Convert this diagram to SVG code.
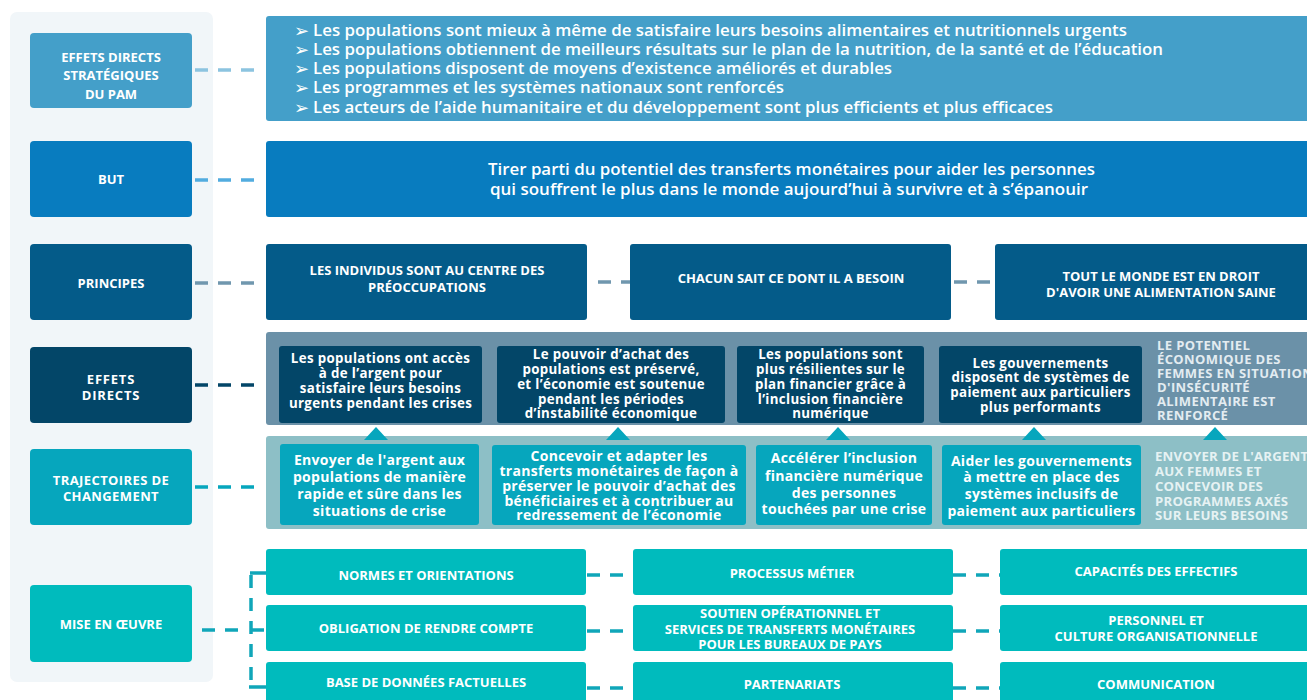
<svg xmlns="http://www.w3.org/2000/svg" width="1307" height="700" viewBox="0 0 1307 700">
<style>
text{font-family:"Open Sans","Liberation Sans",sans-serif;font-weight:700;fill:#fff}
.lab{font-size:13px;text-anchor:middle}
.cap{font-size:13px;text-anchor:middle}
.big{font-size:16px;font-weight:600}
.bul{font-family:"DejaVu Sans",sans-serif;font-size:18px;font-weight:400}
.ed{font-size:13.3px;text-anchor:middle;letter-spacing:0.35px}
.tr{font-size:14px;text-anchor:middle;letter-spacing:0.3px}
.pale{font-size:13px;fill:#e3ecf1;letter-spacing:0.4px}
.pale2{font-size:13.2px;fill:#e6f2f3;letter-spacing:0.2px}
.dash{fill:none;stroke-width:3.5;stroke-dasharray:13 10}
</style>
<rect x="10" y="12" width="203" height="670" rx="7" fill="#f1f6f9"/>

<g id="connectors">
  <line class="dash" x1="195" y1="70" x2="256" y2="70" stroke="#8cc4e0"/>
  <line class="dash" x1="195" y1="180" x2="256" y2="180" stroke="#52acdf"/>
  <line class="dash" x1="195" y1="283" x2="256" y2="283" stroke="#7097ae"/>
  <line class="dash" x1="195" y1="385" x2="256" y2="385" stroke="#034668"/>
  <line class="dash" x1="195" y1="487" x2="256" y2="487" stroke="#06a6bd"/>
  <line class="dash" x1="598" y1="282" x2="630" y2="282" stroke="#7097ae" stroke-dasharray="12 9"/>
  <line class="dash" x1="954" y1="282" x2="995" y2="282" stroke="#7097ae" stroke-dasharray="12 9"/>
  <line class="dash" x1="202" y1="630" x2="240" y2="630" stroke="#10a6b9"/>
  <line x1="250" y1="573" x2="266" y2="573" stroke="#10a6b9" stroke-width="3.5"/>
  <line class="dash" x1="251" y1="575" x2="251" y2="687" stroke="#10a6b9" stroke-dasharray="13 7"/>
  <line x1="250" y1="630" x2="264" y2="630" stroke="#10a6b9" stroke-width="3.5"/>
  <line x1="249" y1="687" x2="266" y2="687" stroke="#10a6b9" stroke-width="3.5"/>
  <line class="dash" x1="587" y1="575" x2="633" y2="575" stroke="#10a6b9" stroke-dasharray="12 10"/>
  <line class="dash" x1="587" y1="631" x2="633" y2="631" stroke="#10a6b9" stroke-dasharray="12 10"/>
  <line class="dash" x1="587" y1="688" x2="633" y2="688" stroke="#10a6b9" stroke-dasharray="12 10"/>
  <line class="dash" x1="953" y1="575" x2="1000" y2="575" stroke="#10a6b9" stroke-dasharray="12 10"/>
  <line class="dash" x1="953" y1="631" x2="1000" y2="631" stroke="#10a6b9" stroke-dasharray="12 10"/>
  <line class="dash" x1="953" y1="688" x2="1000" y2="688" stroke="#10a6b9" stroke-dasharray="12 10"/>
</g>

<g id="lbl-effets-strategiques">
  <rect x="30" y="33" width="162" height="75" rx="4" fill="#449fc9"/>
  <text class="lab" x="111" y="62">EFFETS DIRECTS</text>
  <text class="lab" x="111" y="80">STRATÉGIQUES</text>
  <text class="lab" x="111" y="99">DU PAM</text>
</g>
<g id="lbl-but">
  <rect x="30" y="141" width="162" height="76" rx="4" fill="#087cbf"/>
  <text class="lab" x="111" y="184">BUT</text>
</g>
<g id="lbl-principes">
  <rect x="30" y="244" width="162" height="76" rx="4" fill="#045b89"/>
  <text class="lab" x="111" y="288">PRINCIPES</text>
</g>
<g id="lbl-effets-directs">
  <rect x="30" y="347" width="162" height="76" rx="4" fill="#034668"/>
  <text class="lab" x="111" y="384" letter-spacing="0.8">EFFETS</text>
  <text class="lab" x="111" y="400" letter-spacing="0.8">DIRECTS</text>
</g>
<g id="lbl-trajectoires">
  <rect x="30" y="449" width="162" height="76" rx="4" fill="#06a6bd"/>
  <text class="lab" x="111" y="485" letter-spacing="0.4">TRAJECTOIRES DE</text>
  <text class="lab" x="111" y="501" letter-spacing="0.4">CHANGEMENT</text>
</g>
<g id="lbl-mise">
  <rect x="30" y="585" width="162" height="77" rx="4" fill="#00bbbd"/>
  <text class="lab" x="111" y="629">MISE EN ŒUVRE</text>
</g>

<g id="effets-strategiques">
  <rect x="266" y="16" width="1050" height="105" rx="3" fill="#449fc9"/>
  <text class="bul" x="294" y="37">➢</text>
  <text class="bul" x="294" y="56">➢</text>
  <text class="bul" x="294" y="75">➢</text>
  <text class="bul" x="294" y="94">➢</text>
  <text class="bul" x="294" y="114">➢</text>
  <text class="big" x="313" y="36" textLength="814" lengthAdjust="spacingAndGlyphs">Les populations sont mieux à même de satisfaire leurs besoins alimentaires et nutritionnels urgents</text>
  <text class="big" x="313" y="55" textLength="850" lengthAdjust="spacingAndGlyphs">Les populations obtiennent de meilleurs résultats sur le plan de la nutrition, de la santé et de l’éducation</text>
  <text class="big" x="313" y="74" textLength="579" lengthAdjust="spacingAndGlyphs">Les populations disposent de moyens d’existence améliorés et durables</text>
  <text class="big" x="313" y="93" textLength="471" lengthAdjust="spacingAndGlyphs">Les programmes et les systèmes nationaux sont renforcés</text>
  <text class="big" x="313" y="113" textLength="740" lengthAdjust="spacingAndGlyphs">Les acteurs de l’aide humanitaire et du développement sont plus efficients et plus efficaces</text>
</g>

<g id="but">
  <rect x="266" y="141" width="1050" height="76" rx="3" fill="#087cbf"/>
  <text class="big" x="488" y="175" textLength="607" lengthAdjust="spacingAndGlyphs">Tirer parti du potentiel des transferts monétaires pour aider les personnes</text>
  <text class="big" x="490" y="195" textLength="598" lengthAdjust="spacingAndGlyphs">qui souffrent le plus dans le monde aujourd’hui à survivre et à s’épanouir</text>
</g>

<g id="principe-1">
  <rect x="266" y="244" width="321" height="76" rx="3" fill="#045b89"/>
  <text class="cap" x="427" y="275">LES INDIVIDUS SONT AU CENTRE DES</text>
  <text class="cap" x="427" y="292">PRÉOCCUPATIONS</text>
</g>
<g id="principe-2">
  <rect x="630" y="244" width="321" height="76" rx="3" fill="#045b89"/>
  <text class="cap" x="791" y="283">CHACUN SAIT CE DONT IL A BESOIN</text>
</g>
<g id="principe-3">
  <rect x="995" y="244" width="330" height="76" rx="3" fill="#045b89"/>
  <text class="cap" x="1161" y="281">TOUT LE MONDE EST EN DROIT</text>
  <text class="cap" x="1161" y="297">D'AVOIR UNE ALIMENTATION SAINE</text>
</g>

<g id="band-effets">
  <rect x="266" y="332" width="1050" height="93" rx="3" fill="#6b91a8"/>
</g>
<g id="effet-1">
  <rect x="279" y="346" width="203" height="77" rx="3" fill="#034668"/>
  <text class="ed" x="380.5" y="363">Les populations ont accès</text>
  <text class="ed" x="380.5" y="378">à de l’argent pour</text>
  <text class="ed" x="380.5" y="393">satisfaire leurs besoins</text>
  <text class="ed" x="380.5" y="408">urgents pendant les crises</text>
</g>
<g id="effet-2">
  <rect x="497" y="346" width="228" height="77" rx="3" fill="#034668"/>
  <text class="ed" x="611" y="359">Le pouvoir d’achat des</text>
  <text class="ed" x="611" y="374">populations est préservé,</text>
  <text class="ed" x="611" y="389">et l’économie est soutenue</text>
  <text class="ed" x="611" y="404">pendant les périodes</text>
  <text class="ed" x="611" y="418">d’instabilité économique</text>
</g>
<g id="effet-3">
  <rect x="737" y="346" width="187" height="77" rx="3" fill="#034668"/>
  <text class="ed" x="830.5" y="359">Les populations sont</text>
  <text class="ed" x="830.5" y="374">plus résilientes sur le</text>
  <text class="ed" x="830.5" y="389">plan financier grâce à</text>
  <text class="ed" x="830.5" y="404">l’inclusion financière</text>
  <text class="ed" x="830.5" y="418">numérique</text>
</g>
<g id="effet-4">
  <rect x="939" y="346" width="203" height="77" rx="3" fill="#034668"/>
  <text class="ed" x="1040.5" y="368">Les gouvernements</text>
  <text class="ed" x="1040.5" y="382">disposent de systèmes de</text>
  <text class="ed" x="1040.5" y="397">paiement aux particuliers</text>
  <text class="ed" x="1040.5" y="412">plus performants</text>
</g>
<g id="effet-5">
  <text class="pale" x="1157" y="350">LE POTENTIEL</text>
  <text class="pale" x="1157" y="364">ÉCONOMIQUE DES</text>
  <text class="pale" x="1157" y="378">FEMMES EN SITUATION</text>
  <text class="pale" x="1157" y="392">D'INSÉCURITÉ</text>
  <text class="pale" x="1157" y="406">ALIMENTAIRE EST</text>
  <text class="pale" x="1157" y="420">RENFORCÉ</text>
</g>

<g id="band-trajectoires">
  <rect x="266" y="436" width="1050" height="93" rx="3" fill="#8dbfc6"/>
  <g fill="#06a6bd">
    <polygon points="364,440 376,427 388,440"/>
    <polygon points="606,440 618,427 630,440"/>
    <polygon points="826,440 838,427 850,440"/>
    <polygon points="1022,440 1034,427 1046,440"/>
    <polygon points="1203,440 1215,427 1227,440"/>
  </g>
</g>
<g id="traj-1">
  <rect x="280" y="444" width="199" height="81" rx="3" fill="#06a6bd"/>
  <text class="tr" x="379.5" y="465">Envoyer de l'argent aux</text>
  <text class="tr" x="379.5" y="482">populations de manière</text>
  <text class="tr" x="379.5" y="499">rapide et sûre dans les</text>
  <text class="tr" x="379.5" y="516">situations de crise</text>
</g>
<g id="traj-2">
  <rect x="492" y="445" width="254" height="80" rx="3" fill="#06a6bd"/>
  <text class="tr" x="619" y="461">Concevoir et adapter les</text>
  <text class="tr" x="619" y="476">transferts monétaires de façon à</text>
  <text class="tr" x="619" y="491">préserver le pouvoir d’achat des</text>
  <text class="tr" x="619" y="506">bénéficiaires et à contribuer au</text>
  <text class="tr" x="619" y="520">redressement de l’économie</text>
</g>
<g id="traj-3">
  <rect x="756" y="445" width="176" height="80" rx="3" fill="#06a6bd"/>
  <text class="tr" x="844" y="463">Accélérer l’inclusion</text>
  <text class="tr" x="844" y="481">financière numérique</text>
  <text class="tr" x="844" y="498">des personnes</text>
  <text class="tr" x="844" y="514">touchées par une crise</text>
</g>
<g id="traj-4">
  <rect x="942" y="445" width="199" height="80" rx="3" fill="#06a6bd"/>
  <text class="tr" x="1041.5" y="466">Aider les gouvernements</text>
  <text class="tr" x="1041.5" y="482">à mettre en place des</text>
  <text class="tr" x="1041.5" y="499">systèmes inclusifs de</text>
  <text class="tr" x="1041.5" y="516">paiement aux particuliers</text>
</g>
<g id="traj-5">
  <text class="pale2" x="1155" y="461">ENVOYER DE L'ARGENT</text>
  <text class="pale2" x="1155" y="476">AUX FEMMES ET</text>
  <text class="pale2" x="1155" y="491">CONCEVOIR DES</text>
  <text class="pale2" x="1155" y="506">PROGRAMMES AXÉS</text>
  <text class="pale2" x="1155" y="520">SUR LEURS BESOINS</text>
</g>

<g id="mo-normes">
  <rect x="266" y="549" width="320" height="46" rx="3" fill="#00bbbd"/>
  <text class="cap" x="426" y="580">NORMES ET ORIENTATIONS</text>
</g>
<g id="mo-obligation">
  <rect x="266" y="605" width="320" height="46" rx="3" fill="#00bbbd"/>
  <text class="cap" x="426" y="633">OBLIGATION DE RENDRE COMPTE</text>
</g>
<g id="mo-base">
  <rect x="266" y="662" width="320" height="46" rx="3" fill="#00bbbd"/>
  <text class="cap" x="426" y="687">BASE DE DONNÉES FACTUELLES</text>
</g>
<g id="mo-processus">
  <rect x="633" y="549" width="320" height="46" rx="3" fill="#00bbbd"/>
  <text class="cap" x="792" y="578">PROCESSUS MÉTIER</text>
</g>
<g id="mo-soutien">
  <rect x="633" y="605" width="320" height="46" rx="3" fill="#00bbbd"/>
  <text class="cap" x="790" y="618">SOUTIEN OPÉRATIONNEL ET</text>
  <text class="cap" x="790" y="634">SERVICES DE TRANSFERTS MONÉTAIRES</text>
  <text class="cap" x="790" y="649">POUR LES BUREAUX DE PAYS</text>
</g>
<g id="mo-partenariats">
  <rect x="633" y="662" width="320" height="46" rx="3" fill="#00bbbd"/>
  <text class="cap" x="792" y="689">PARTENARIATS</text>
</g>
<g id="mo-capacites">
  <rect x="1000" y="549" width="320" height="46" rx="3" fill="#00bbbd"/>
  <text class="cap" x="1156" y="576">CAPACITÉS DES EFFECTIFS</text>
</g>
<g id="mo-personnel">
  <rect x="1000" y="605" width="320" height="46" rx="3" fill="#00bbbd"/>
  <text class="cap" x="1156" y="625">PERSONNEL ET</text>
  <text class="cap" x="1156" y="641">CULTURE ORGANISATIONNELLE</text>
</g>
<g id="mo-communication">
  <rect x="1000" y="662" width="320" height="46" rx="3" fill="#00bbbd"/>
  <text class="cap" x="1156" y="689">COMMUNICATION</text>
</g>
</svg>
